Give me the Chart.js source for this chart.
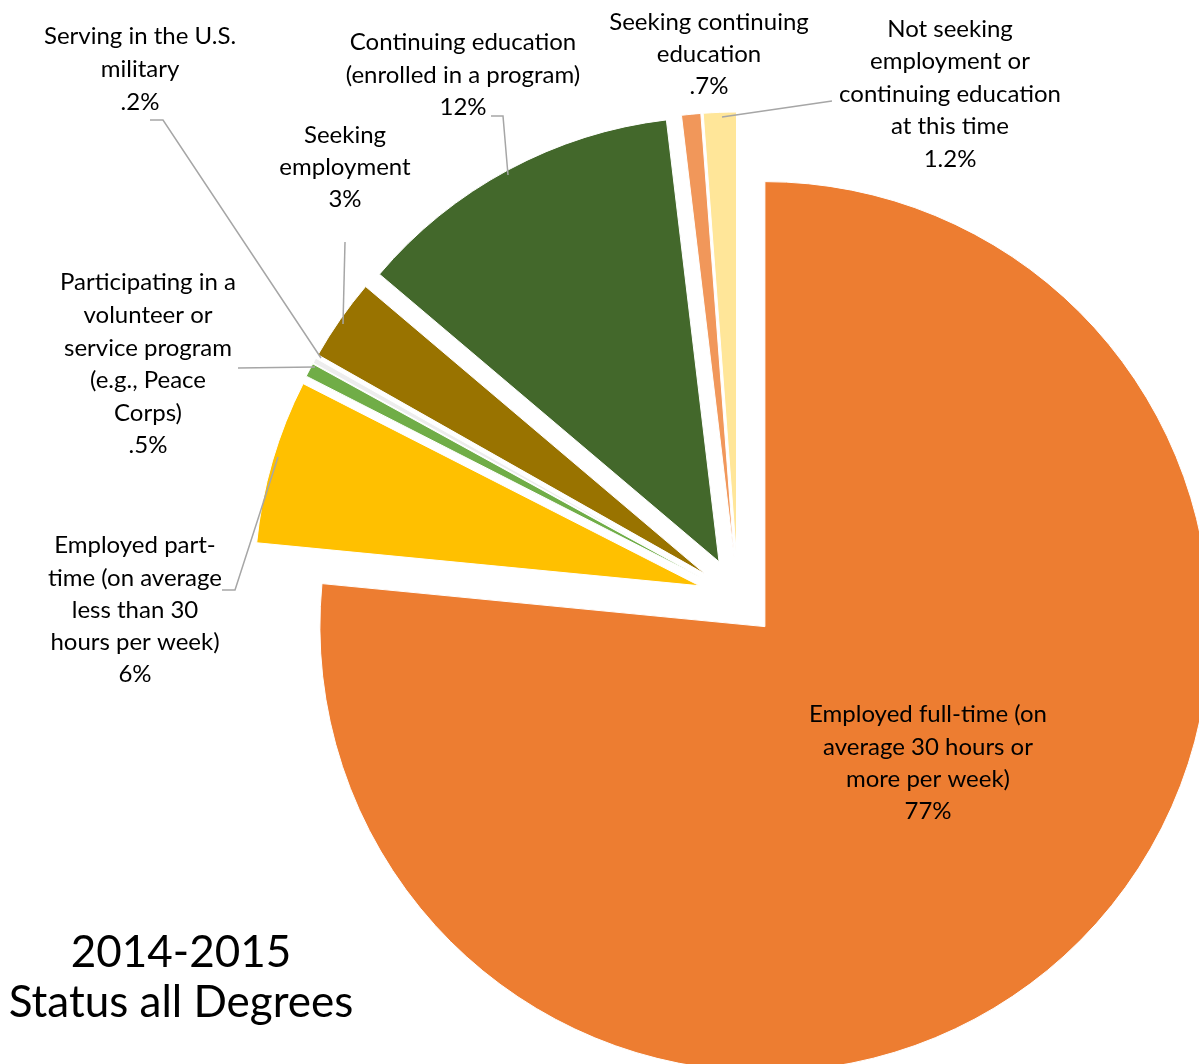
<!DOCTYPE html>
<html>
<head>
<meta charset="utf-8">
<script src="https://cdn.jsdelivr.net/npm/chart.js@4"></script>
<style>
  html, body { margin: 0; padding: 0; background: #fff; overflow: hidden; }
  #chart { display: block; }
</style>
</head>
<body>
<canvas id="chart" width="1199" height="1064"></canvas>
<script>
// data (clockwise from 12 o'clock)
const statuses = [
  "Employed full-time (on average 30 hours or more per week)",
  "Employed part-time (on average less than 30 hours per week)",
  "Participating in a volunteer or service program (e.g., Peace Corps)",
  "Serving in the U.S. military",
  "Seeking employment",
  "Continuing education (enrolled in a program)",
  "Seeking continuing education",
  "Not seeking employment or continuing education at this time",
];
const shares = [77, 6, 0.5, 0.2, 3, 12, 0.7, 1.2];
const shareLabels = ["77%", "6%", ".5%", ".2%", "3%", "12%", ".7%", "1.2%"];
const titleLines = ["2014-2015", "Status all Degrees"];

// how the category names wrap in the picture
const wrapped = [
  ["Employed full-time (on", "average 30 hours or", "more per week)"],
  ["Employed part-", "time (on average", "less than 30", "hours per week)"],
  ["Participating in a", "volunteer or", "service program", "(e.g., Peace", "Corps)"],
  ["Serving in the U.S.", "military"],
  ["Seeking", "employment"],
  ["Continuing education", "(enrolled in a program)"],
  ["Seeking continuing", "education"],
  ["Not seeking", "employment or", "continuing education", "at this time"],
];

const colors = ["#ED7D31", "#FFC000", "#70AD47", "#EDEDED", "#997300", "#43682B", "#F1975A", "#FFE699"];

// label placement (x centre, baselines) and leader lines
const labelPos = [
  { x: 928, y: [722, 755, 787, 819] },
  { x: 135, y: [553, 586, 618, 650, 682] },
  { x: 148, y: [290, 323, 356, 388, 421, 453] },
  { x: 140, y: [44, 77, 110] },
  { x: 345, y: [143, 175, 207] },
  { x: 463, y: [50, 83, 115] },
  { x: 709, y: [30, 62, 94] },
  { x: 950, y: [37, 69, 102, 134, 167] },
];
const leaders = [
  null,
  [[222, 590], [235, 590], [278, 457]],
  [[238, 368], [315, 367]],
  [[150, 120], [163, 120], [321, 358]],
  [[345, 242], [343, 324]],
  [[491, 116], [503, 116], [508, 175]],
  null,
  [[832, 101], [722, 117]],
];

const explode = 40;
const fontFamily = "Lato, 'Open Sans', sans-serif";

const explodePlugin = {
  id: "explode",
  beforeDatasetsDraw(chart) {
    const area = chart.chartArea;
    const cx = (area.left + area.right) / 2;
    const cy = (area.top + area.bottom) / 2;
    chart.getDatasetMeta(0).data.forEach((arc) => {
      const mid = (arc.startAngle + arc.endAngle) / 2;
      arc.x = cx + Math.cos(mid) * explode;
      arc.y = cy + Math.sin(mid) * explode;
    });
  },
};

const labelPlugin = {
  id: "labels",
  afterDraw(chart) {
    const ctx = chart.ctx;
    ctx.save();
    ctx.strokeStyle = "#A6A6A6";
    ctx.lineWidth = 1.5;
    leaders.forEach((pts) => {
      if (!pts) return;
      ctx.beginPath();
      pts.forEach((p, i) => (i ? ctx.lineTo(p[0], p[1]) : ctx.moveTo(p[0], p[1])));
      ctx.stroke();
    });
    ctx.fillStyle = "#000";
    ctx.textAlign = "center";
    ctx.textBaseline = "alphabetic";
    ctx.font = "24px " + fontFamily;
    wrapped.forEach((lines, i) => {
      const all = lines.concat([shareLabels[i]]);
      all.forEach((t, j) => ctx.fillText(t, labelPos[i].x, labelPos[i].y[j]));
    });
    ctx.font = "44px " + fontFamily;
    ctx.fillText(titleLines[0], 181, 967);
    ctx.fillText(titleLines[1], 181, 1017);
    ctx.restore();
  },
};

new Chart(document.getElementById("chart"), {
  type: "pie",
  data: {
    labels: statuses,
    datasets: [
      {
        data: shares,
        backgroundColor: colors,
        borderColor: "#ffffff",
        borderWidth: 1,
        radius: 445,
      },
    ],
  },
  options: {
    responsive: false,
    animation: false,
    layout: { padding: { left: 277, top: 130, right: 0, bottom: 0 } },
    plugins: {
      legend: { display: false },
      tooltip: { enabled: false },
    },
  },
  plugins: [explodePlugin, labelPlugin],
});
</script>
</body>
</html>
